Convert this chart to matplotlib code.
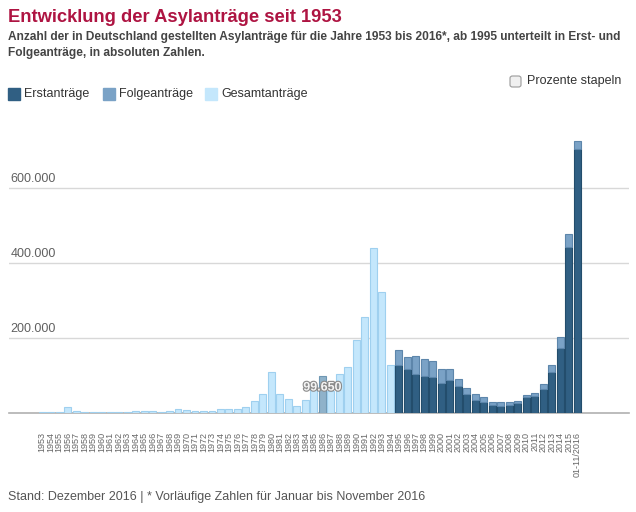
import matplotlib.pyplot as plt
import matplotlib.patheffects as pe
from matplotlib.patches import Rectangle, FancyBboxPatch
import numpy as np

plt.rcParams['font.family'] = ['Liberation Sans', 'DejaVu Sans']

# ================= Daten =================
years = [str(y) for y in range(1953, 2016)] + ["01-11/2016"]

# Gesamtanträge 1953-1994
gesamt_alt = [1906, 2174, 1926, 16284, 5622, 2785, 2267, 2980, 2722, 2550,
              3238, 4542, 4337, 4868, 2992, 5608, 11664, 8645, 5388, 5289,
              5595, 9424, 9627, 11123, 16410, 33136, 51493, 107818, 49391, 37423,
              19737, 35278, 73832, 99650, 57379, 103076, 121318, 193063, 256112, 438191,
              322599, 127210]

# Erst- und Folgeanträge 1995-2016
erst = [127937, 116367, 104353, 98644, 95113, 78564, 88287, 71127, 50563, 35607,
        28914, 21029, 19164, 22085, 27649, 41332, 45741, 64539, 109580, 173072,
        441899, 702584]
folge = [39014, 32826, 47347, 44785, 43206, 39084, 30019, 20344, 17285, 14545,
         13994, 9071, 11139, 5933, 5384, 7257, 7606, 13112, 17443, 29762,
         34750, 20443]

hover_year = "1986"
# ========================================

W, H = 636, 512
C_ERST = '#305f83'
C_FOLGE = '#7aa2c6'
C_GESAMT = '#c4e7fc'
C_HOVER = '#8fb2ca'


def fx(x):
    return x / W


def fy(y):
    return 1 - y / H


fig = plt.figure(figsize=(W / 100, H / 100), dpi=100)
ax = fig.add_axes([fx(9), fy(413), fx(629) - fx(9), fy(120) - fy(413)])

n_alt = len(gesamt_alt)
x = np.arange(len(years))
bw = 0.82

x_alt = x[:n_alt]
cols = [C_HOVER if years[i] == hover_year else C_GESAMT for i in range(n_alt)]
ecols = ['#6f97b3' if years[i] == hover_year else '#9fd0ef' for i in range(n_alt)]
ax.bar(x_alt, gesamt_alt, width=bw, color=cols, edgecolor=ecols, linewidth=0.8, zorder=3)

x_neu = x[n_alt:]
ax.bar(x_neu, erst, width=bw, color=C_ERST, edgecolor='#234d6c', linewidth=0.8, zorder=3)
ax.bar(x_neu, folge, width=bw, bottom=erst, color=C_FOLGE, edgecolor='#5d86ab',
       linewidth=0.8, zorder=3)

# Hover-Label
hi = years.index(hover_year)
hv = gesamt_alt[hi]
lab = f"{hv:,}".replace(",", ".")
ax.text(x[hi], hv * 0.68, lab, ha='center', va='center', fontsize=9, fontweight='bold',
        color='#f4f4f4', zorder=5,
        path_effects=[pe.withStroke(linewidth=1.6, foreground='#8a8a8a')])

ax.set_xlim(-3.9, len(years) - 1 + 6.1)
ax.set_ylim(0, 780000)

yt = [200000, 400000, 600000]
for v in yt:
    ax.axhline(v, color='#d8d8d8', linewidth=1, zorder=1)
    ax.text(0.002, v + 8000, f"{v:,}".replace(",", "."), transform=ax.get_yaxis_transform(),
            ha='left', va='bottom', fontsize=9, color='#606060')
ax.set_yticks([])

ax.set_xticks(x)
ax.set_xticklabels(years, rotation=90, fontsize=6.5, color='#666666')
ax.tick_params(axis='x', length=0, pad=13.5)

for s in ['top', 'right', 'left']:
    ax.spines[s].set_visible(False)
ax.spines['bottom'].set_color('#b0b0b0')
ax.spines['bottom'].set_linewidth(1.2)

# Titel und Untertitel
fig.text(fx(8), fy(17), "Entwicklung der Asylanträge seit 1953", fontsize=13.2,
         fontweight='bold', color='#ae1442', va='center', ha='left')
fig.text(fx(8), fy(37), "Anzahl der in Deutschland gestellten Asylanträge für die Jahre 1953 bis 2016*, "
         "ab 1995 unterteilt in Erst- und", fontsize=8.6, fontweight='bold', color='#444444',
         va='center', ha='left')
fig.text(fx(8), fy(53), "Folgeanträge, in absoluten Zahlen.", fontsize=8.6, fontweight='bold',
         color='#444444', va='center', ha='left')

# Legende
legend = [("Erstanträge", C_ERST, 8), ("Folgeanträge", C_FOLGE, 103), ("Gesamtanträge", C_GESAMT, 205)]
for name, c, lx in legend:
    fig.patches.append(Rectangle((fx(lx), fy(100)), fx(12), 12 / H, color=c,
                                 transform=fig.transFigure, figure=fig))
    fig.text(fx(lx + 16), fy(94), name, fontsize=9, color='#333333', va='center', ha='left')

# Checkbox
fig.patches.append(FancyBboxPatch((fx(510), fy(87)), fx(11), 11 / H,
                                  boxstyle="round,pad=0,rounding_size=0.004",
                                  facecolor='#f0f0f0', edgecolor='#9a9a9a', linewidth=0.8,
                                  transform=fig.transFigure, figure=fig))
fig.text(fx(527), fy(81), "Prozente stapeln", fontsize=9, color='#333333', va='center', ha='left')

# Fußnote
fig.text(fx(8), fy(497), "Stand: Dezember 2016 | * Vorläufige Zahlen für Januar bis November 2016",
         fontsize=9, color='#555555', va='center', ha='left')

fig.savefig("out.png", dpi=100)
